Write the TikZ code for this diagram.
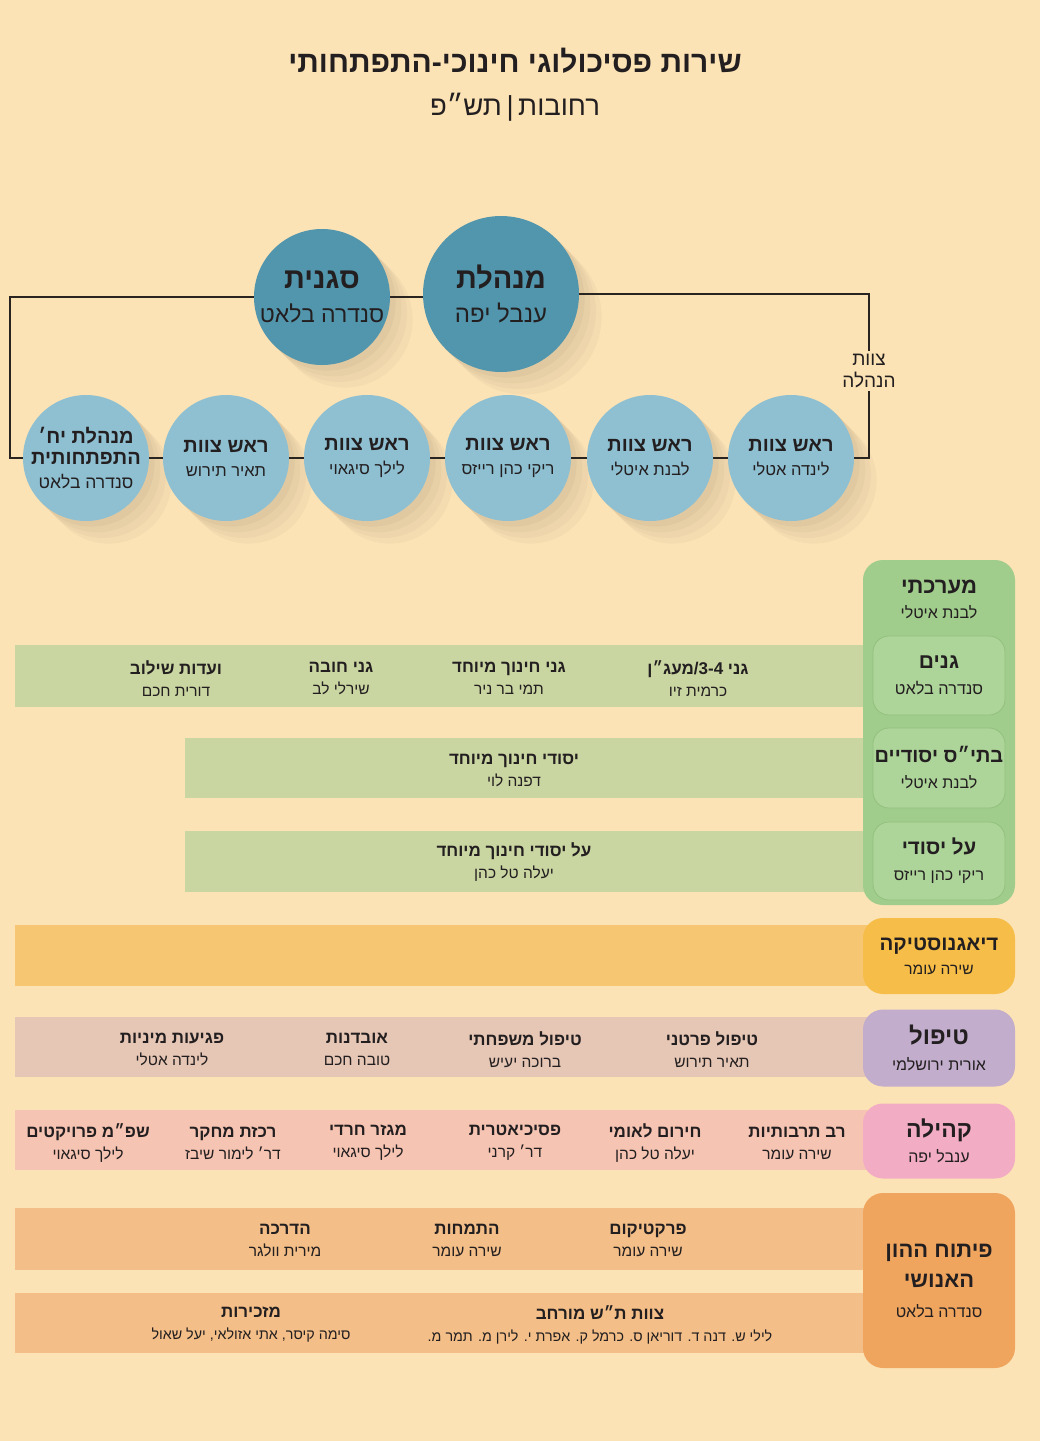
\documentclass[tikz,border=0pt]{standalone}
\usepackage{fontspec}
\setmainfont[Script=Hebrew]{Liberation Sans}
\TeXXeTstate=1
\usetikzlibrary{calc}
\pgfdeclarelayer{back}\pgfdeclarelayer{bg}\pgfsetlayers{back,bg,main}
\definecolor{bgpeach}{HTML}{FCE3B5}
\definecolor{txt}{HTML}{231F20}
\definecolor{linec}{HTML}{2A2420}
\definecolor{topcol}{HTML}{5296AD}
\definecolor{lowcol}{HTML}{8EC0D2}
\definecolor{sysbox}{HTML}{A0CC8C}
\definecolor{subbox}{HTML}{ADD599}
\definecolor{subline}{HTML}{93C07F}
\definecolor{greenband}{HTML}{CAD6A2}
\definecolor{diagbox}{HTML}{F6BE48}
\definecolor{diagband}{HTML}{F7C673}
\definecolor{tipbox}{HTML}{C2ADCD}
\definecolor{tipband}{HTML}{E6C6B4}
\definecolor{kehbox}{HTML}{F2ACC3}
\definecolor{kehband}{HTML}{F6C4B2}
\definecolor{hrbox}{HTML}{F0A55F}
\definecolor{hrband}{HTML}{F3BE87}
\tikzset{
  conn/.style={draw=linec, line width=1.8pt},
  topc/.style={circle, fill=topcol, inner sep=0pt, align=center, text=txt},
  lowc/.style={circle, fill=lowcol, minimum size=126pt, inner sep=0pt, align=center,
    text=txt, font=\fontsize{20}{24}\selectfont},
  catbox/.style={rounded corners=20pt, inner sep=0pt, align=center, text=txt,
    minimum width=152pt},
  subbx/.style={rounded corners=16pt, fill=subbox, draw=subline, line width=0.8pt,
    inner sep=0pt, align=center, text=txt, minimum width=132pt},
  item/.style={align=center, inner sep=0pt, text=txt, font=\fontsize{17}{22}\selectfont},
}
\newcommand\lshadow[2]{%
  \foreach \L in {8,16,24,32}{%
    \fill[black,opacity=0.028] ($(#1)+(0.7071*#2,-0.7071*#2)$) -- ++(0.7071*\L,0.7071*\L)
      arc[start angle=-45,end angle=135,radius=#2] -- ($(#1)+(-0.7071*#2,0.7071*#2)$) -- cycle;}}
\newcommand\itm[5]{\node[item] (#1) at (#2,#3) {\textbf{#4}\\{\fontsize{15.5}{22}\selectfont #5}};}
\newcommand\itmsmall[5]{\node[item] (#1) at (#2,#3) {\textbf{#4}\\{\fontsize{14.3}{22}\selectfont #5}};}
\begin{document}
\begin{tikzpicture}[x=1pt,y=-1pt]
\useasboundingbox (0,0) rectangle (1040,1441);
\begin{pgfonlayer}{back}
  \fill[bgpeach] (0,0) rectangle (1040,1441);
\end{pgfonlayer}

% title
\node[text=txt, font=\fontsize{30}{36}\selectfont\bfseries] (title) at (515,61) {\beginR שירות פסיכולוגי חינוכי-התפתחותי\endR};
\node[text=txt, font=\fontsize{27.5}{32}\selectfont] (sub) at (515,107) {\beginR רחובות\,|\,תש״פ\endR};

% top circles
\node[topc, minimum size=156pt, font=\fontsize{29}{34}\selectfont] (mgr) at (501,294)
  {\textbf{\beginR מנהלת\endR}\\{\fontsize{24}{34}\selectfont\beginR ענבל יפה\endR}};
\node[topc, minimum size=136pt, font=\fontsize{29}{34}\selectfont] (dep) at (322,297)
  {\textbf{\beginR סגנית\endR}\\{\fontsize{23}{34}\selectfont\beginR סנדרה בלאט\endR}};

% lower circles
\node[lowc] (t1) at (86,458) {\textbf{\beginR מנהלת יח׳\endR}\\[-3pt]\textbf{\beginR התפתחותית\endR}\\{\fontsize{17.5}{25}\selectfont\beginR סנדרה בלאט\endR}};
\node[lowc] (t2) at (226,458) {\textbf{\beginR ראש צוות\endR}\\{\fontsize{16.5}{25}\selectfont\beginR תאיר תירוש\endR}};
\node[lowc] (t3) at (367,458) {\textbf{\beginR ראש צוות\endR}\\{\fontsize{16.5}{25}\selectfont\beginR לילך סיגאוי\endR}};
\node[lowc] (t4) at (508,458) {\textbf{\beginR ראש צוות\endR}\\{\fontsize{16.5}{25}\selectfont\beginR ריקי כהן רייזס\endR}};
\node[lowc] (t5) at (650,458) {\textbf{\beginR ראש צוות\endR}\\{\fontsize{16.5}{25}\selectfont\beginR לבנת איטלי\endR}};
\node[lowc] (t6) at (791,458) {\textbf{\beginR ראש צוות\endR}\\{\fontsize{16.5}{25}\selectfont\beginR לינדה אטלי\endR}};

\node[text=txt, align=center, inner sep=3pt, font=\fontsize{19}{22}\selectfont] (lbl) at (869,371) {\beginR צוות\endR\\\beginR הנהלה\endR};
\coordinate (cL) at (10,380);

\begin{pgfonlayer}{bg}
  \lshadow{mgr}{78}
  \lshadow{dep}{68}
  \foreach \n in {t1,t2,t3,t4,t5,t6}{\lshadow{\n}{63}}
  \draw[conn] (mgr.east) -| (lbl.north);
  \draw[conn] (lbl.south) |- (t6.east);
  \draw[conn] (dep.east) -- (mgr.west |- dep.east);
  \draw[conn] (dep.west) -| (cL) |- (t1.west);
  \draw[conn] (t1) -- (t2) -- (t3) -- (t4) -- (t5) -- (t6);
\end{pgfonlayer}

% bands
\fill[greenband] (15,645) rectangle (868,707);
\fill[greenband] (185,738) rectangle (868,798);
\fill[greenband] (185,831) rectangle (868,892);
\fill[diagband] (15,925) rectangle (868,986);
\fill[tipband] (15,1017) rectangle (868,1077);
\fill[kehband] (15,1110) rectangle (868,1170);
\fill[hrband] (15,1208) rectangle (868,1270);
\fill[hrband] (15,1293) rectangle (868,1353);

% category boxes
\node[catbox, fill=sysbox, minimum height=345pt] (sys) at (939,732.5) {};
\node[text=txt, align=center, inner sep=0pt, font=\fontsize{22}{25}\selectfont] (sysT) at (939,599)
  {\textbf{\beginR מערכתי\endR}\\{\fontsize{16}{25}\selectfont\beginR לבנת איטלי\endR}};
\node[subbx, minimum height=79pt, font=\fontsize{21}{26}\selectfont] (gan) at (939,675.5)
  {\textbf{\beginR גנים\endR}\\{\fontsize{16.3}{26}\selectfont\beginR סנדרה בלאט\endR}};
\node[subbx, minimum height=80pt, font=\fontsize{20}{26}\selectfont] (yes) at (939,768)
  {\textbf{\beginR בתי״ס יסודיים\endR}\\{\fontsize{16}{26}\selectfont\beginR לבנת איטלי\endR}};
\node[subbx, minimum height=78pt, font=\fontsize{20.5}{26}\selectfont] (aly) at (939,861)
  {\textbf{\beginR על יסודי\endR}\\{\fontsize{16}{26}\selectfont\beginR ריקי כהן רייזס\endR}};
\node[catbox, fill=diagbox, minimum height=76pt, font=\fontsize{20.5}{24}\selectfont] (diag) at (939,956)
  {\textbf{\beginR דיאגנוסטיקה\endR}\\{\fontsize{15.5}{24}\selectfont\beginR שירה עומר\endR}};
\node[catbox, fill=tipbox, minimum height=77pt, font=\fontsize{24}{26}\selectfont] (tip) at (939,1048)
  {\textbf{\beginR טיפול\endR}\\{\fontsize{16}{26}\selectfont\beginR אורית ירושלמי\endR}};
\node[catbox, fill=kehbox, minimum height=75pt, font=\fontsize{23}{25}\selectfont] (keh) at (939,1141)
  {\textbf{\beginR קהילה\endR}\\{\fontsize{16}{25}\selectfont\beginR ענבל יפה\endR}};
\node[catbox, fill=hrbox, minimum height=175pt, font=\fontsize{22}{30}\selectfont] (hr) at (939,1280.5)
  {\textbf{\beginR פיתוח ההון\endR}\\\textbf{\beginR האנושי\endR}\\{\fontsize{16}{27}\selectfont\beginR סנדרה בלאט\endR}};

% items
\itm{g1}{698}{678.5}{\beginR גני 3-4/מעג״ן\endR}{\beginR כרמית זיו\endR}
\itm{g2}{509}{678.5}{\beginR גני חינוך מיוחד\endR}{\beginR תמי בר ניר\endR}
\itm{g3}{341}{678.5}{\beginR גני חובה\endR}{\beginR שירלי לב\endR}
\itm{g4}{176}{678.5}{\beginR ועדות שילוב\endR}{\beginR דורית חכם\endR}
\itm{y1}{514}{770}{\beginR יסודי חינוך מיוחד\endR}{\beginR דפנה לוי\endR}
\itm{a1}{514}{862}{\beginR על יסודי חינוך מיוחד\endR}{\beginR יעלה טל כהן\endR}
\itm{p1}{712}{1049.5}{\beginR טיפול פרטני\endR}{\beginR תאיר תירוש\endR}
\itm{p2}{525}{1049.5}{\beginR טיפול משפחתי\endR}{\beginR ברוכה יעיש\endR}
\itm{p3}{357}{1049.5}{\beginR אובדנות\endR}{\beginR טובה חכם\endR}
\itm{p4}{172}{1049.5}{\beginR פגיעות מיניות\endR}{\beginR לינדה אטלי\endR}
\itm{k1}{797}{1143}{\beginR רב תרבותיות\endR}{\beginR שירה עומר\endR}
\itm{k2}{655}{1143}{\beginR חירום לאומי\endR}{\beginR יעלה טל כהן\endR}
\itm{k3}{515}{1143}{\beginR פסיכיאטרית\endR}{\beginR דר׳ קרני\endR}
\itm{k4}{368}{1143}{\beginR מגזר חרדי\endR}{\beginR לילך סיגאוי\endR}
\itm{k5}{233}{1143}{\beginR רכזת מחקר\endR}{\beginR דר׳ לימור שיבז\endR}
\itm{k6}{88}{1143}{\beginR שפ״מ פרויקטים\endR}{\beginR לילך סיגאוי\endR}
\itm{h1}{648}{1240.5}{\beginR פרקטיקום\endR}{\beginR שירה עומר\endR}
\itm{h2}{467}{1240.5}{\beginR התמחות\endR}{\beginR שירה עומר\endR}
\itm{h3}{285}{1240.5}{\beginR הדרכה\endR}{\beginR מירית וולגר\endR}
\itmsmall{h4}{600}{1324.5}{\beginR צוות ת״ש מורחב\endR}{\beginR לילי ש. דנה ד. דוריאן ס. כרמל ק. אפרת י. לירן מ. תמר מ.\endR}
\itmsmall{h5}{251}{1324.5}{\beginR מזכירות\endR}{\beginR סימה קיסר, אתי אזולאי, יעל שאול\endR}
\end{tikzpicture}
\end{document}
